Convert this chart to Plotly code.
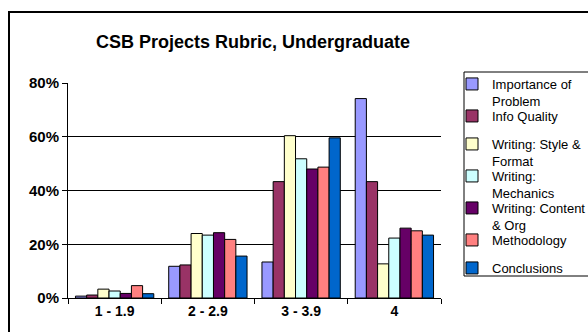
import plotly.graph_objects as go

# Score bands on the rubric
categories = ["1 - 1.9", "2 - 2.9", "3 - 3.9", "4"]

# Share of projects in each band, per rubric criterion (fractions)
importance_of_problem = [0.007, 0.118, 0.134, 0.742]
info_quality = [0.011, 0.123, 0.433, 0.433]
writing_style_format = [0.033, 0.240, 0.604, 0.127]
writing_mechanics = [0.026, 0.234, 0.518, 0.223]
writing_content_org = [0.017, 0.243, 0.480, 0.260]
methodology = [0.046, 0.218, 0.487, 0.250]
conclusions = [0.016, 0.156, 0.596, 0.234]

series_names = [
    "Importance of<br>Problem",
    "Info Quality",
    "Writing: Style &<br>Format",
    "Writing:<br>Mechanics",
    "Writing: Content<br>& Org",
    "Methodology",
    "Conclusions",
]
series_values = [
    importance_of_problem,
    info_quality,
    writing_style_format,
    writing_mechanics,
    writing_content_org,
    methodology,
    conclusions,
]
series_colors = ["#9999FF", "#993366", "#FFFFCC", "#CCFFFF", "#660066", "#FF8080", "#0066CC"]

FONT = "Arial, Liberation Sans, sans-serif"

# canvas and plot-area geometry in pixels
W, H = 588, 332
L, R, T, B = 68, 147, 83, 34
pw, ph = W - L - R, H - T - B


def px_x(x):
    return (x - L) / pw


def px_y(y):
    return (H - B - y) / ph


# each legend entry gets its own legend block so rows can be placed on a fixed pitch
legend_ids = ["legend"] + [f"legend{i}" for i in range(2, len(series_names) + 1)]
LEGEND_LEFT = 452
LEGEND_TOP0 = 69
LEGEND_FONT = 13

legend_layouts = {}
top = LEGEND_TOP0
for name, lid in zip(series_names, legend_ids):
    legend_layouts[lid] = dict(
        xref="container", yref="container",
        x=LEGEND_LEFT / W, y=1 - top / H,
        xanchor="left", yanchor="top",
        bgcolor="rgba(0,0,0,0)", borderwidth=0,
        font=dict(size=LEGEND_FONT, family=FONT, color="black"),
        valign="top", itemwidth=30,
    )
    # wrapped entries take a slightly taller row
    top += 32 if "<br>" in name else 28

fig = go.Figure()
for name, vals, color, lid in zip(series_names, series_values, series_colors, legend_ids):
    fig.add_trace(go.Bar(
        x=categories, y=vals, name=name, legend=lid, showlegend=True,
        marker=dict(color=color, line=dict(color="#000000", width=1)),
    ))

fig.update_layout(
    width=W, height=H,
    margin=dict(l=L, r=R, t=T, b=B, autoexpand=False),
    paper_bgcolor="white", plot_bgcolor="white",
    showlegend=True,
    barmode="group", bargap=0.16, bargroupgap=0,
    font=dict(family=FONT, color="black"),
    title=dict(
        text="CSB Projects Rubric, Undergraduate",
        font=dict(size=18, family=FONT, color="black", weight="bold"),
        xref="container", x=253 / W, xanchor="center",
        yref="container", y=1 - 42 / H, yanchor="middle",
    ),
    xaxis=dict(
        showgrid=False, showline=True, linecolor="black", linewidth=1,
        ticks="outside", ticklen=5, tickcolor="black",
        tickson="boundaries",
        tickfont=dict(size=14, family=FONT, color="black", weight="bold"),
    ),
    yaxis=dict(
        range=[0, 0.8], tickvals=[0, 0.2, 0.4, 0.6, 0.8], tickformat=".0%",
        showgrid=True, gridcolor="black", gridwidth=1,
        showline=True, linecolor="black", linewidth=1,
        ticks="outside", ticklen=5, tickcolor="black",
        tickfont=dict(size=15, family=FONT, color="black", weight="bold"),
        zeroline=False,
    ),
    shapes=[
        # outer chart frame
        dict(type="rect", xref="paper", yref="paper",
             x0=px_x(9), x1=px_x(600), y0=px_y(345), y1=px_y(12),
             line=dict(color="black", width=2), layer="below"),
        # legend box
        dict(type="rect", xref="paper", yref="paper",
             x0=px_x(464), x1=px_x(600), y0=px_y(276), y1=px_y(72),
             line=dict(color="black", width=1), layer="above"),
    ],
    **legend_layouts,
)

fig.write_html("out.html")
